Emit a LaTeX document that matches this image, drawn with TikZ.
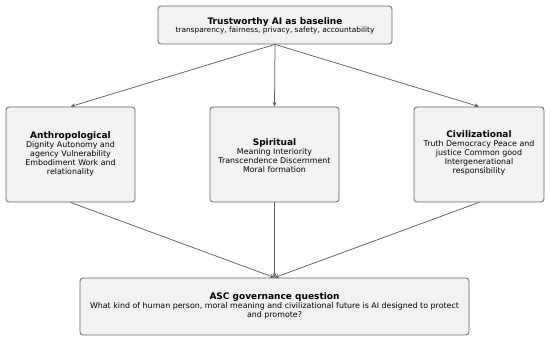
\documentclass[tikz,border=0pt]{standalone}
\usepackage{fontspec}
\setmainfont{DejaVu Sans}
\usetikzlibrary{arrows.meta}
\begin{document}
\begin{tikzpicture}[x=1pt,y=-1pt,
  box/.style={draw=black!60,fill=black!5,line width=0.8pt,rounded corners=3pt,inner sep=0pt},
  conn/.style={draw=black!62,line width=0.75pt,-{Stealth[length=4.5pt,width=4pt]}},
  txt/.style={align=center,inner sep=0pt,font=\fontsize{7.9}{9}\selectfont}]
\newcommand\ttlfont{\bfseries\fontsize{9}{10}\selectfont}
\useasboundingbox (0,0) rectangle (550,342);
\node[box,minimum width=234pt,minimum height=38pt] (top) at (275,25) {};
\node[txt,font=\fontsize{7.4}{8.5}\selectfont] (topt) at (275,26) {{\ttlfont Trustworthy AI as baseline}\\[-0.5pt]transparency, fairness, privacy, safety, accountability};
\node[box,minimum width=129pt,minimum height=95pt] (left) at (70.5,154.5) {};
\node[box,minimum width=129pt,minimum height=95pt] (mid) at (274.5,154.5) {};
\node[box,minimum width=130pt,minimum height=95pt] (right) at (479,154.5) {};
\node[txt] (leftt) at (70.5,154) {{\ttlfont Anthropological}\\[-0.5pt]Dignity Autonomy and\\agency Vulnerability\\Embodiment Work and\\relationality};
\node[txt] (midt) at (274.5,155.5) {{\ttlfont Spiritual}\\[-0.5pt]Meaning Interiority\\Transcendence Discernment\\Moral formation};
\node[txt] (rightt) at (479,153) {{\ttlfont Civilizational}\\[-0.5pt]Truth Democracy Peace and\\justice Common good\\Intergenerational\\responsibility};
\node[box,minimum width=389pt,minimum height=57pt] (bot) at (274.5,306.5) {};
\node[txt] (bott) at (274.5,306) {{\ttlfont ASC governance question}\\[-0.5pt]What kind of human person, moral meaning and civilizational future is AI designed to protect\\and promote?};
\draw[conn] (top.south) -- (left.north);
\draw[conn] (top.south) -- (mid.north);
\draw[conn] (top.south) -- (right.north);
\draw[conn] (left.south) -- (bot.north);
\draw[conn] (mid.south) -- (bot.north);
\draw[conn] (right.south) -- (bot.north);
\end{tikzpicture}
\end{document}
